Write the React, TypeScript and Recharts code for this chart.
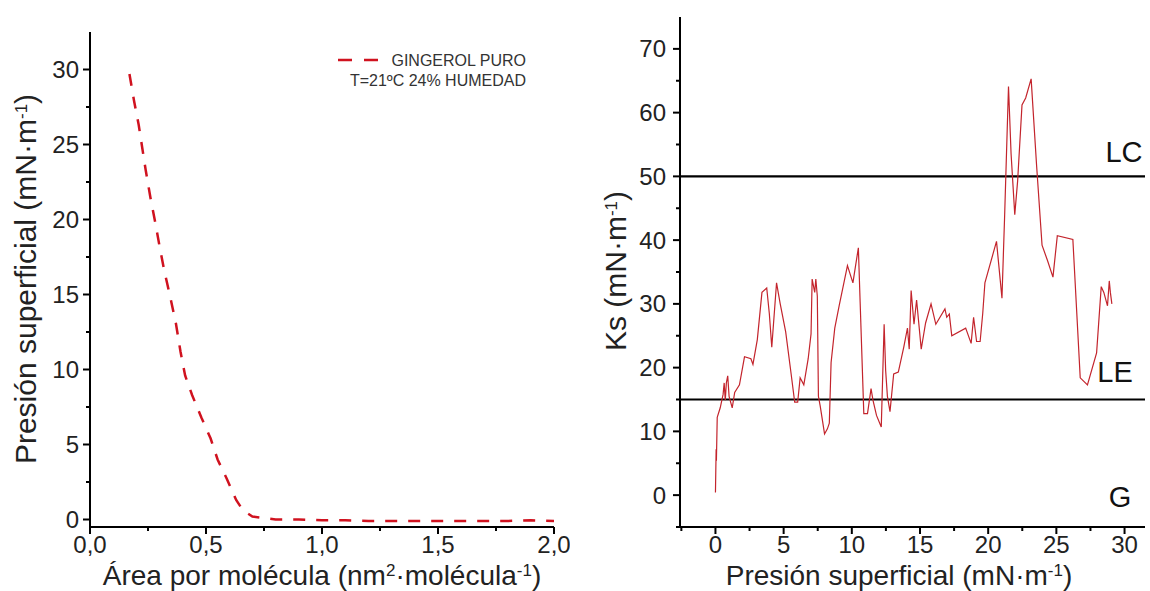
import React from 'react';
import { LineChart, Line, XAxis, YAxis, ReferenceLine } from 'recharts';

// ---------- Left chart data (π–A isotherm) ----------
const areaValues = [0.17, 0.19, 0.21, 0.24, 0.26, 0.28, 0.30, 0.32, 0.345, 0.37, 0.39, 0.41, 0.44, 0.48, 0.52, 0.55, 0.59, 0.63, 0.66, 0.70, 0.75, 0.80, 0.90, 1.0, 1.1, 1.2, 1.3, 1.4, 1.5, 1.6, 1.7, 1.8, 1.9, 2.0];
const pressureValues = [29.7, 27.9, 26.3, 23.3, 21.5, 19.9, 18.2, 16.6, 14.9, 13.1, 11.2, 9.6, 8.3, 6.8, 5.4, 4.0, 2.7, 1.3, 0.6, 0.2, 0.1, 0.0, 0.0, -0.05, -0.05, -0.1, -0.1, -0.1, -0.1, -0.1, -0.1, -0.1, -0.05, -0.1];
const leftXTicks = [0, 0.25, 0.5, 0.75, 1.0, 1.25, 1.5, 1.75, 2.0];
const leftYTicks = [0, 2.5, 5, 7.5, 10, 12.5, 15, 17.5, 20, 22.5, 25, 27.5, 30];

// ---------- Right chart data (Ks vs π) ----------
const ksPressure = [0, 0.05, 0.07, 0.13, 0.35, 0.56, 0.64, 0.72, 0.8, 0.9, 1.0, 1.23, 1.41, 1.76, 2.13, 2.6, 2.75, 3.07, 3.41, 3.76, 3.95, 4.13, 4.48, 4.75, 5.15, 5.55, 5.81, 6.03, 6.21, 6.48, 6.8, 7.01, 7.09, 7.28, 7.36, 7.47, 7.55, 7.68, 8.0, 8.21, 8.35, 8.48, 8.75, 9.07, 9.68, 10.08, 10.48, 10.61, 10.88, 11.15, 11.41, 11.55, 11.81, 12.16, 12.37, 12.48, 12.61, 12.8, 13.07, 13.41, 13.81, 14.08, 14.21, 14.35, 14.56, 14.75, 15.09, 15.41, 15.81, 16.16, 16.83, 16.96, 17.15, 17.33, 18.35, 18.75, 18.93, 19.15, 19.41, 19.6, 19.76, 20.61, 21.01, 21.2, 21.49, 21.68, 21.95, 22.16, 22.48, 22.75, 23.15, 23.55, 23.95, 24.35, 24.75, 25.07, 26.21, 26.75, 27.28, 27.95, 28.29, 28.48, 28.75, 28.88, 28.96, 29.07];
const ksValues = [0.4, 7.2, 5.4, 12.2, 13.7, 15.8, 17.6, 14.9, 17.6, 18.7, 15.5, 13.7, 16.1, 17.3, 21.7, 21.4, 20.5, 24.4, 31.8, 32.5, 28.5, 23.2, 33.3, 30.0, 25.6, 19.0, 14.6, 14.6, 18.4, 17.3, 21.4, 25.3, 33.9, 31.8, 33.9, 31.2, 15.5, 14.0, 9.6, 10.4, 11.3, 20.8, 26.2, 29.7, 36.0, 33.3, 38.8, 30.3, 12.8, 12.8, 16.7, 14.9, 12.5, 10.7, 26.8, 19.6, 15.5, 13.1, 19.0, 19.3, 23.2, 26.2, 22.9, 32.1, 26.8, 30.6, 22.9, 27.0, 30.0, 26.8, 29.2, 27.9, 28.4, 25.0, 26.2, 23.8, 27.9, 24.1, 24.1, 28.5, 33.3, 39.8, 30.9, 43.4, 64.1, 53.5, 44.0, 49.3, 61.2, 62.3, 65.3, 51.7, 39.2, 36.8, 34.2, 40.7, 40.1, 18.4, 17.3, 22.3, 32.7, 31.8, 29.7, 33.6, 31.8, 30.0];
const rightXTicks = [-2.5, 0, 2.5, 5, 7.5, 10, 12.5, 15, 17.5, 20, 22.5, 25, 27.5, 30];
const rightYTicks = [-5, 0, 5, 10, 15, 20, 25, 30, 35, 40, 45, 50, 55, 60, 65, 70];
const phaseLimits = [50, 15];
const phaseLabels = ['LC', 'LE', 'G'];

const leftData = areaValues.map((a, i) => ({ area: a, pi: pressureValues[i] }));
const rightData = ksPressure.map((p, i) => ({ p, ks: ksValues[i] }));

const FONT = '"Liberation Sans", Arial, sans-serif';
const TICK_FONT = 24;

const isMult = (v: number, step: number) => Math.abs(v / step - Math.round(v / step)) < 1e-9;

const makeXTick = (step: number, fmt: (v: number) => string, dy: number) => (props: any) => {
  const { x, y, payload } = props;
  const v = payload.value;
  const major = isMult(v, step);
  return (
    <g>
      <line x1={x} x2={x} y1={y} y2={y + (major ? 7 : 4)} stroke="#000" strokeWidth={2} />
      {major && (
        <text x={x} y={y + dy} textAnchor="middle" fontFamily={FONT} fontSize={TICK_FONT} fill="#222">
          {fmt(v)}
        </text>
      )}
    </g>
  );
};

const makeYTick = (step: number, fmt: (v: number) => string, gap: number) => (props: any) => {
  const { x, y, payload } = props;
  const v = payload.value;
  const major = isMult(v, step);
  return (
    <g>
      <line x1={x} x2={x - (major ? 7 : 4)} y1={y} y2={y} stroke="#000" strokeWidth={2} />
      {major && (
        <text x={x - gap} y={y + 8.5} textAnchor="end" fontFamily={FONT} fontSize={TICK_FONT} fill="#222">
          {fmt(v)}
        </text>
      )}
    </g>
  );
};

const commaFmt = (v: number) => v.toFixed(1).replace('.', ',');
const intFmt = (v: number) => String(v);

const LeftXTick = makeXTick(0.5, commaFmt, 26);
const LeftYTick = makeYTick(5, intFmt, 11);
const RightXTick = makeXTick(5, intFmt, 26);
const RightYTick = makeYTick(10, intFmt, 14);

const Sup = ({ children }: { children: React.ReactNode }) => (
  <tspan baselineShift="super" fontSize={17}>{children}</tspan>
);

export default function App() {
  return (
    <div style={{ position: 'absolute', left: 0, top: 0, width: 1150, height: 591, background: '#fff', overflow: 'hidden' }}>
      <div style={{ position: 'absolute', left: 0, top: 0 }}>
        <LineChart width={570} height={591} data={leftData} margin={{ top: 32, right: 16, bottom: 34, left: 30 }}>
          <XAxis
            dataKey="area"
            type="number"
            domain={[0, 2]}
            ticks={leftXTicks}
            interval={0}
            tickSize={0}
            tickMargin={0}
            tickLine={false}
            tick={LeftXTick}
            axisLine={{ stroke: '#000', strokeWidth: 2 }}
            allowDataOverflow
            height={30}
          />
          <YAxis
            type="number"
            domain={[-0.5, 32.5]}
            ticks={leftYTicks}
            interval={0}
            tickSize={0}
            tickMargin={0}
            tickLine={false}
            tick={LeftYTick}
            axisLine={{ stroke: '#000', strokeWidth: 2 }}
            allowDataOverflow
            width={60}
          />
          <Line
            dataKey="pi"
            type="linear"
            stroke="#d0121f"
            strokeWidth={2.5}
            strokeDasharray="12 11"
            dot={false}
            isAnimationActive={false}
          />
        </LineChart>
      </div>
      <div style={{ position: 'absolute', left: 580, top: 0 }}>
        <LineChart width={570} height={591} data={rightData} margin={{ top: 17, right: 5, bottom: 34, left: 40 }}>
          <XAxis
            dataKey="p"
            type="number"
            domain={[-2.6, 31.5]}
            ticks={rightXTicks}
            interval={0}
            tickSize={0}
            tickMargin={0}
            tickLine={false}
            tick={RightXTick}
            axisLine={{ stroke: '#000', strokeWidth: 2 }}
            allowDataOverflow
            height={30}
          />
          <YAxis
            type="number"
            domain={[-5, 75]}
            ticks={rightYTicks}
            interval={0}
            tickSize={0}
            tickMargin={0}
            tickLine={false}
            tick={RightYTick}
            axisLine={{ stroke: '#000', strokeWidth: 2 }}
            allowDataOverflow
            width={60}
          />
          <ReferenceLine y={phaseLimits[0]} stroke="#000" strokeWidth={2.2} />
          <ReferenceLine y={phaseLimits[1]} stroke="#000" strokeWidth={2.2} />
          <Line
            dataKey="ks"
            type="linear"
            stroke="#c3242c"
            strokeWidth={1.2}
            dot={false}
            isAnimationActive={false}
          />
        </LineChart>
      </div>
      <svg width={1150} height={591} style={{ position: 'absolute', left: 0, top: 0, pointerEvents: 'none' }} fontFamily={FONT}>
        {/* legend */}
        <line x1={338} x2={381} y1={60} y2={60} stroke="#d0121f" strokeWidth={2.5} strokeDasharray="14 12" />
        <text x={526} y={66} textAnchor="end" fontSize={16} fill="#333">GINGEROL PURO</text>
        <text x={526} y={86} textAnchor="end" fontSize={16} fill="#333">T=21ºC 24% HUMEDAD</text>
        {/* left axis titles */}
        <text x={36} y={279} transform="rotate(-90 36 279)" textAnchor="middle" fontSize={30} fill="#222">
          Presión superficial (mN·m<Sup>-1</Sup>)
        </text>
        <text x={322} y={585} textAnchor="middle" fontSize={28} fill="#222">
          Área por molécula (nm<Sup>2</Sup>·molécula<Sup>-1</Sup>)
        </text>
        {/* right axis titles */}
        <text x={626} y={271} transform="rotate(-90 626 271)" textAnchor="middle" fontSize={30} fill="#222">
          Ks (mN·m<Sup>-1</Sup>)
        </text>
        <text x={899} y={585} textAnchor="middle" fontSize={28} fill="#222">
          Presión superficial (mN·m<Sup>-1</Sup>)
        </text>
        {/* phase labels */}
        <text x={1124} y={162} textAnchor="middle" fontSize={29} fill="#111">{phaseLabels[0]}</text>
        <text x={1115} y={382} textAnchor="middle" fontSize={29} fill="#111">{phaseLabels[1]}</text>
        <text x={1120} y={507} textAnchor="middle" fontSize={29} fill="#111">{phaseLabels[2]}</text>
      </svg>
    </div>
  );
}
